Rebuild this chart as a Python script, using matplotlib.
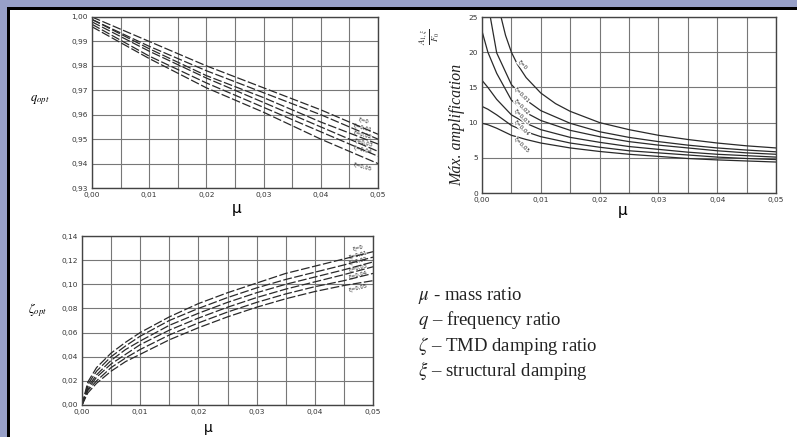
import matplotlib
matplotlib.use('Agg')
import matplotlib.pyplot as plt
from matplotlib.patches import Rectangle

plt.rcParams['mathtext.fontset'] = 'stix'

# ---- datos ----
# q_opt (panel superior izquierdo), 6 curvas xi = 0 ... 0.05
mu_q = [0.0, 0.01, 0.02, 0.03, 0.04, 0.05]
q_xi0 = [1.000, 0.990, 0.980, 0.971, 0.962, 0.952]
q_xi1 = [0.999, 0.988, 0.978, 0.969, 0.960, 0.950]
q_xi2 = [0.999, 0.987, 0.976, 0.967, 0.957, 0.948]
q_xi3 = [0.998, 0.986, 0.975, 0.965, 0.955, 0.945]
q_xi4 = [0.997, 0.984, 0.973, 0.963, 0.953, 0.943]
q_xi5 = [0.996, 0.983, 0.971, 0.961, 0.950, 0.940]

# amplificacion maxima (panel superior derecho)
mu_a0 = [0.003, 0.004, 0.005, 0.006, 0.0075, 0.01, 0.0125, 0.015, 0.02, 0.025, 0.03, 0.035, 0.04, 0.045, 0.05]
amp_xi0 = [25.8, 22.4, 20.0, 18.3, 16.4, 14.2, 12.7, 11.6, 10.0, 9.0, 8.2, 7.6, 7.1, 6.7, 6.4]
mu_a1 = [0.0012, 0.0025, 0.005, 0.0075, 0.01, 0.015, 0.02, 0.025, 0.03, 0.035, 0.04, 0.045, 0.05]
amp_xi1 = [26.0, 19.9, 15.4, 13.2, 11.7, 9.9, 8.7, 7.9, 7.3, 6.8, 6.4, 6.1, 5.85]
mu_a = [0.0, 0.001, 0.0025, 0.005, 0.0075, 0.01, 0.015, 0.02, 0.025, 0.03, 0.035, 0.04, 0.045, 0.05]
amp_xi2 = [23.0, 20.0, 17.0, 13.2, 11.4, 10.3, 8.9, 8.0, 7.3, 6.8, 6.4, 6.0, 5.7, 5.5]
amp_xi3 = [16.0, 15.0, 13.3, 11.1, 9.9, 9.0, 7.9, 7.2, 6.6, 6.2, 5.8, 5.5, 5.3, 5.1]
amp_xi4 = [12.3, 11.9, 11.1, 9.6, 8.7, 8.0, 7.1, 6.5, 6.0, 5.7, 5.4, 5.1, 4.9, 4.75]
amp_xi5 = [9.9, 9.7, 9.2, 8.2, 7.6, 7.1, 6.4, 5.9, 5.5, 5.2, 4.9, 4.7, 4.55, 4.4]

# zeta_opt (panel inferior izquierdo)
mu_z = [0.0, 0.001, 0.0025, 0.005, 0.0075, 0.01, 0.015, 0.02, 0.025, 0.03, 0.035, 0.04, 0.045, 0.05]
z_xi0 = [0, 0.019, 0.031, 0.043, 0.052, 0.060, 0.073, 0.084, 0.093, 0.101, 0.109, 0.115, 0.121, 0.127]
z_xi1 = [0, 0.017, 0.028, 0.040, 0.049, 0.057, 0.070, 0.080, 0.089, 0.097, 0.104, 0.110, 0.116, 0.1225]
z_xi2 = [0, 0.015, 0.025, 0.037, 0.046, 0.053, 0.066, 0.076, 0.085, 0.093, 0.100, 0.106, 0.112, 0.1185]
z_xi3 = [0, 0.013, 0.023, 0.034, 0.042, 0.050, 0.062, 0.072, 0.081, 0.089, 0.096, 0.102, 0.108, 0.1145]
z_xi4 = [0, 0.012, 0.020, 0.031, 0.039, 0.046, 0.058, 0.068, 0.077, 0.085, 0.092, 0.098, 0.103, 0.109]
z_xi5 = [0, 0.010, 0.018, 0.028, 0.036, 0.042, 0.054, 0.064, 0.073, 0.081, 0.088, 0.094, 0.099, 0.103]

xi_labels = ['ξ=0', 'ξ=0,01', 'ξ=0,02', 'ξ=0,03', 'ξ=0,04', 'ξ=0,05']
mu_ticks = [0.0, 0.01, 0.02, 0.03, 0.04, 0.05]
mu_ticklabels = ['0,00', '0,01', '0,02', '0,03', '0,04', '0,05']
q_ticks = [0.93, 0.94, 0.95, 0.96, 0.97, 0.98, 0.99, 1.00]
q_ticklabels = ['0,93', '0,94', '0,95', '0,96', '0,97', '0,98', '0,99', '1,00']
amp_ticks = [0, 5, 10, 15, 20, 25]
amp_ticklabels = ['0', '5', '10', '15', '20', '25']
z_ticks = [0.0, 0.02, 0.04, 0.06, 0.08, 0.10, 0.12, 0.14]
z_ticklabels = ['0,00', '0,02', '0,04', '0,06', '0,08', '0,10', '0,12', '0,14']
legend_lines = [r'$\mu$ - mass ratio', r'$q$ – frequency ratio',
                r'$\zeta$ – TMD damping ratio', r'$\xi$ – structural damping']

# posiciones de etiquetas de curvas
q_lab_y = [0.9575, 0.9545, 0.9515, 0.9485, 0.9455, 0.9385]
amp_lab_y = [18.2, 13.9, 12.2, 10.8, 9.2, 6.8]
z_lab_y = [0.130, 0.1245, 0.119, 0.1135, 0.108, 0.097]

W, H = 797, 437
fig = plt.figure(figsize=(W / 100, H / 100), dpi=100)
fig.patch.set_facecolor('#97a0c8')
fig.add_artist(Rectangle((7 / W, 0), 1, 1 - 7 / H, transform=fig.transFigure,
                         fc='black', ec='none', zorder=-10))
fig.add_artist(Rectangle((10 / W, 0), 1, 1 - 10 / H, transform=fig.transFigure,
                         fc='white', ec='none', zorder=-9))

lc = '#2a2a2a'
dash = (0, (7, 2))


def style(ax, yticks, yticklabels):
    ax.set_xlim(0, 0.05)
    ax.set_xticks(mu_ticks)
    ax.set_xticklabels(mu_ticklabels)
    ax.set_xticks([0.005, 0.015, 0.025, 0.035, 0.045], minor=True)
    ax.set_yticks(yticks)
    ax.set_yticklabels(yticklabels)
    ax.set_ylim(yticks[0], yticks[-1])
    ax.tick_params(which='both', length=0, labelsize=5.3, colors='#333333', pad=3)
    ax.grid(which='both', color='#777777', lw=0.8)
    ax.set_axisbelow(True)
    for s in ax.spines.values():
        s.set_color('#444444')
        s.set_linewidth(1)


# panel q_opt
ax1 = fig.add_axes([92 / W, 1 - 188 / H, 286 / W, 171 / H])
style(ax1, q_ticks, q_ticklabels)
for q in [q_xi0, q_xi1, q_xi2, q_xi3, q_xi4, q_xi5]:
    ax1.plot(mu_q, q, color=lc, lw=0.9, ls=dash)
for lab, y in zip(xi_labels, q_lab_y):
    ax1.text(0.0474, y, lab, fontsize=3.8, rotation=-15, ha='center', va='center', color='#222222')

# panel amplificacion
ax2 = fig.add_axes([482 / W, 1 - 193 / H, 294 / W, 176 / H])
style(ax2, amp_ticks, amp_ticklabels)
ax2.plot(mu_a0, amp_xi0, color=lc, lw=0.9)
ax2.plot(mu_a1, amp_xi1, color=lc, lw=0.9)
for a in [amp_xi2, amp_xi3, amp_xi4, amp_xi5]:
    ax2.plot(mu_a, a, color=lc, lw=0.9)
for lab, y in zip(xi_labels, amp_lab_y):
    ax2.text(0.0068, y, lab, fontsize=4, rotation=-45, ha='center', va='center', color='#222222',
             bbox=dict(fc='white', ec='none', pad=0.3))

# panel zeta_opt
ax3 = fig.add_axes([82 / W, 1 - 405 / H, 291 / W, 169 / H])
style(ax3, z_ticks, z_ticklabels)
for z in [z_xi0, z_xi1, z_xi2, z_xi3, z_xi4, z_xi5]:
    ax3.plot(mu_z, z, color=lc, lw=0.9, ls=dash)
for lab, y in zip(xi_labels, z_lab_y):
    ax3.text(0.0474, y, lab, fontsize=3.8, rotation=15, ha='center', va='center', color='#222222')

# etiquetas de ejes
fig.text(237 / W, 1 - 208 / H, 'μ', fontsize=11, ha='center', va='center')
fig.text(623 / W, 1 - 210 / H, 'μ', fontsize=11, ha='center', va='center')
fig.text(208 / W, 1 - 435 / H, 'μ', fontsize=10, ha='center', va='bottom')
fig.text(40 / W, 1 - 100 / H, r'$q_{opt}$', fontsize=9, ha='center', va='center')
fig.text(38 / W, 1 - 310 / H, r'$\zeta_{opt}$', fontsize=9, ha='center', va='center')
fig.text(457 / W, 1 - 125 / H, 'Máx. amplification', rotation=90, family='Liberation Serif',
         style='italic', fontsize=11.5, ha='center', va='center', color='#222222')
fig.text(430 / W, 1 - 37 / H, r'$\frac{A_{1,\xi}}{F_0}$', rotation=90, fontsize=9,
         ha='center', va='center', color='#222222')

# leyenda de simbolos
for i, t in enumerate(legend_lines):
    fig.text(418 / W, 1 - (295 + 25.3 * i) / H, t, family='Liberation Serif', fontsize=13.5,
             ha='left', va='center', color='#222222')

fig.savefig('out.png', dpi=100, facecolor=fig.get_facecolor())
